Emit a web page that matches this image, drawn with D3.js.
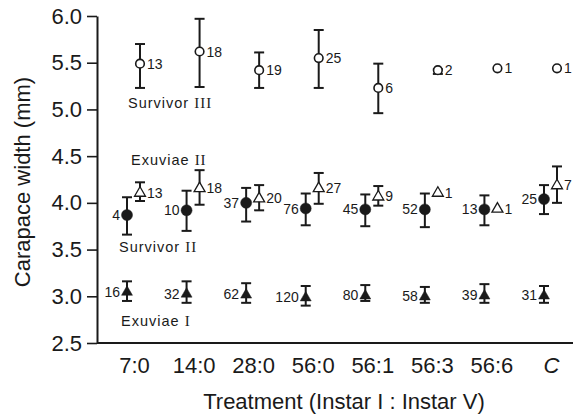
<!DOCTYPE html>
<html>
<head>
<meta charset="utf-8">
<script src="https://cdn.jsdelivr.net/npm/d3@7"></script>
<style>
  html, body { margin: 0; padding: 0; background: #fff; }
  svg { display: block; }
  text { fill: #1a1a1a; }
</style>
</head>
<body>
<svg id="chart" width="574" height="416"></svg>
<script>
// Treatments (days at Instar I : days at Instar V)
const treatments = ["7:0", "14:0", "28:0", "56:0", "56:1", "56:3", "56:6", "C"];
const yTicks = [2.5, 3.0, 3.5, 4.0, 4.5, 5.0, 5.5, 6.0];

// Survivor III (open circles): mean, lower, upper, n
const survIIIMean = [5.49, 5.62, 5.42, 5.55, 5.23, 5.42, 5.44, 5.44];
const survIIILow  = [5.23, 5.24, 5.23, 5.23, 4.96, 5.38, null, null];
const survIIIHigh = [5.70, 5.97, 5.61, 5.85, 5.49, 5.43, null, null];
const survIIIN    = [13, 18, 19, 25, 6, 2, 1, 1];

// Exuviae II (open triangles)
const exuIIMean = [4.11, 4.16, 4.05, 4.16, 4.07, 4.11, 3.94, 4.19];
const exuIILow  = [4.02, 3.98, 3.92, 3.99, 3.97, null, null, 4.00];
const exuIIHigh = [4.22, 4.35, 4.19, 4.32, 4.18, null, null, 4.39];
const exuIIN    = [13, 18, 20, 27, 9, 1, 1, 7];

// Survivor II (filled circles)
const survIIMean = [3.87, 3.92, 4.00, 3.94, 3.93, 3.93, 3.93, 4.04];
const survIILow  = [3.66, 3.70, 3.80, 3.76, 3.75, 3.74, 3.76, 3.88];
const survIIHigh = [4.06, 4.13, 4.16, 4.10, 4.09, 4.10, 4.08, 4.19];
const survIIN    = [4, 10, 37, 76, 45, 52, 13, 25];

// Exuviae I (filled triangles)
const exuIMean = [3.05, 3.03, 3.02, 2.99, 3.01, 3.00, 3.01, 3.01];
const exuILow  = [2.95, 2.93, 2.93, 2.90, 2.95, 2.93, 2.93, 2.93];
const exuIHigh = [3.16, 3.16, 3.14, 3.11, 3.12, 3.10, 3.13, 3.11];
const exuIN    = [16, 32, 62, 120, 80, 58, 39, 31];

const svg = d3.select("#chart");
const FONT = "'Liberation Sans', Arial, Helvetica, sans-serif";

const x = d3.scalePoint().domain(treatments).range([134, 551]);
const y = d3.scaleLinear().domain([2.5, 6.0]).range([343, 16]);
const axisLeftX = 97;

// y axis
const gy = svg.append("g")
  .attr("transform", `translate(${axisLeftX},0)`)
  .call(d3.axisLeft(y).tickValues(yTicks).tickFormat(d3.format(".1f"))
    .tickSize(10).tickSizeOuter(0).tickPadding(5));
gy.select(".domain").attr("stroke", "#1a1a1a").attr("stroke-width", 2);
gy.selectAll(".tick line").attr("stroke", "#1a1a1a").attr("stroke-width", 1.6);
gy.selectAll(".tick text").attr("font-family", FONT).attr("font-size", 22).attr("fill", "#1a1a1a");

// x axis (labels only, no tick marks)
const gx = svg.append("g")
  .attr("transform", `translate(0,${y(2.5)})`)
  .call(d3.axisBottom(x).tickSize(0).tickSizeOuter(0).tickPadding(14));
gx.select(".domain").attr("d", `M${axisLeftX},0H573`).attr("stroke", "#1a1a1a").attr("stroke-width", 2);
gx.selectAll(".tick text").attr("font-family", FONT).attr("font-size", 22).attr("fill", "#1a1a1a")
  .attr("font-style", d => d === "C" ? "italic" : "normal");

// axis titles
svg.append("text")
  .attr("transform", `translate(30,182) rotate(-90)`)
  .attr("text-anchor", "middle")
  .attr("font-family", FONT).attr("font-size", 22)
  .text("Carapace width (mm)");
svg.append("text")
  .attr("x", 344).attr("y", 409)
  .attr("text-anchor", "middle")
  .attr("font-family", FONT).attr("font-size", 22)
  .text("Treatment (Instar I : Instar V)");

// series definitions
const series = [
  { mean: survIIIMean, low: survIIILow, high: survIIIHigh, n: survIIIN, dx: 6,  shape: "circle",   filled: false, side: "right" },
  { mean: exuIIMean,   low: exuIILow,   high: exuIIHigh,   n: exuIIN,   dx: 6,  shape: "triangle", filled: false, side: "right" },
  { mean: survIIMean,  low: survIILow,  high: survIIHigh,  n: survIIN,  dx: -7, shape: "circle",   filled: true,  side: "left"  },
  { mean: exuIMean,    low: exuILow,    high: exuIHigh,    n: exuIN,    dx: -7, shape: "triangle", filled: true,  side: "left"  }
];

const tri = d3.symbol().type(d3.symbolTriangle).size(52);

series.forEach(s => {
  const rows = treatments.map((t, i) => ({ t, m: s.mean[i], lo: s.low[i], hi: s.high[i], n: s.n[i] }));
  const g = svg.append("g");
  const pts = g.selectAll("g.pt").data(rows).join("g")
    .attr("class", "pt")
    .attr("transform", d => `translate(${x(d.t) + s.dx},0)`);

  // error bars
  const eb = pts.filter(d => d.lo != null);
  eb.append("line")
    .attr("x1", 0).attr("x2", 0)
    .attr("y1", d => y(d.lo)).attr("y2", d => y(d.hi))
    .attr("stroke", "#1a1a1a").attr("stroke-width", 2);
  ["lo", "hi"].forEach(k => {
    eb.append("line")
      .attr("x1", -5).attr("x2", 5)
      .attr("y1", d => y(d[k])).attr("y2", d => y(d[k]))
      .attr("stroke", "#1a1a1a").attr("stroke-width", 2);
  });

  // markers
  if (s.shape === "circle") {
    pts.append("circle")
      .attr("cx", 0).attr("cy", d => y(d.m))
      .attr("r", s.filled ? 5.5 : 4.3)
      .attr("fill", s.filled ? "#1a1a1a" : "#fff")
      .attr("stroke", "#1a1a1a").attr("stroke-width", s.filled ? 0.5 : 1.6);
  } else {
    pts.append("path")
      .attr("d", tri)
      .attr("transform", d => `translate(0,${y(d.m) + 0.5})`)
      .attr("fill", s.filled ? "#1a1a1a" : "#fff")
      .attr("stroke", "#1a1a1a").attr("stroke-width", s.filled ? 0.5 : 1.3);
  }

  // sample sizes
  pts.append("text")
    .attr("x", s.side === "right" ? 7 : -7)
    .attr("y", d => y(d.m))
    .attr("dy", "0.36em")
    .attr("text-anchor", s.side === "right" ? "start" : "end")
    .attr("font-family", FONT).attr("font-size", 14)
    .text(d => d.n);
});

// series names
const names = [
  { base: "Survivor ", num: "III", x: 128, y: 108 },
  { base: "Exuviae ",  num: "II",  x: 131, y: 165 },
  { base: "Survivor ", num: "II",  x: 119, y: 252 },
  { base: "Exuviae ",  num: "I",   x: 121, y: 326 }
];
names.forEach(nm => {
  const t = svg.append("text")
    .attr("x", nm.x).attr("y", nm.y)
    .attr("font-family", FONT).attr("font-size", 14.5)
    .attr("letter-spacing", 1);
  t.append("tspan").text(nm.base);
  t.append("tspan").attr("font-family", "'Liberation Serif', 'Times New Roman', serif").attr("font-size", 15).text(nm.num);
});
</script>
</body>
</html>
